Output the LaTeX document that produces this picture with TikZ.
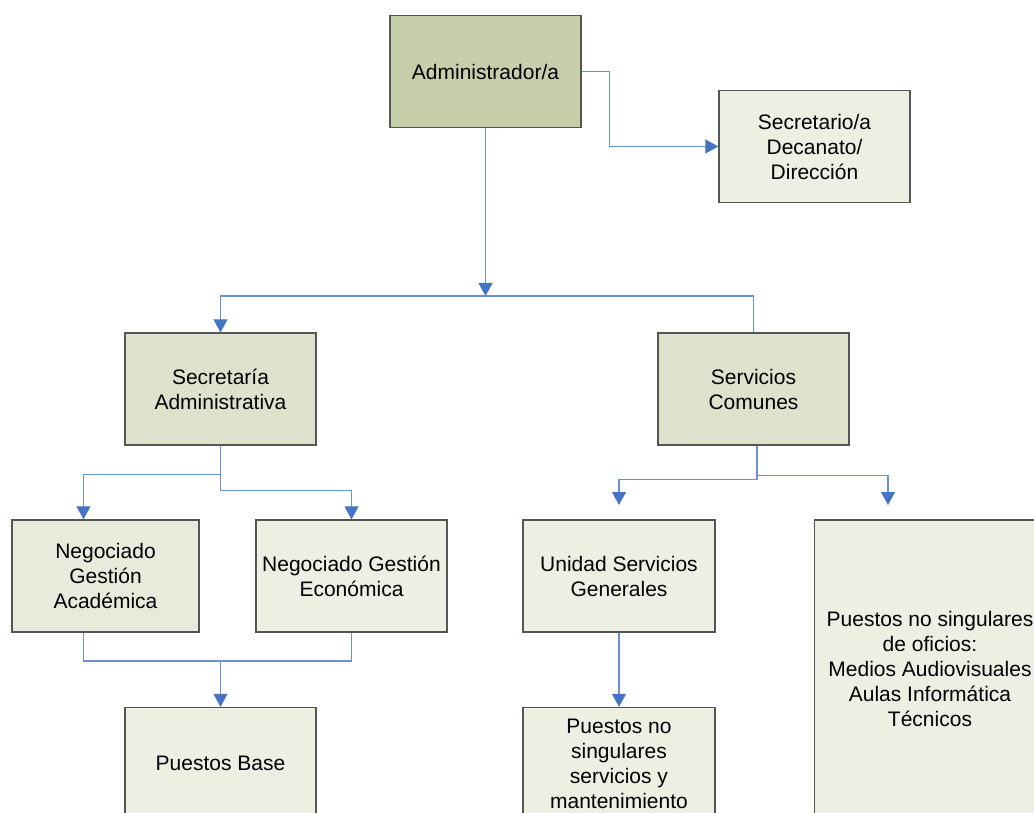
\documentclass[tikz,border=0pt]{standalone}
\usepackage{fontspec}
\setmainfont{Liberation Sans}
\usepackage{tikz}
\usetikzlibrary{arrows.meta}
\definecolor{boxline}{RGB}{85,85,85}
\definecolor{linkblue}{RGB}{105,145,212}
\definecolor{tipblue}{RGB}{70,116,196}
\definecolor{olivefill}{RGB}{199,207,170}
\definecolor{midfill}{RGB}{222,225,204}
\definecolor{palefill}{RGB}{232,234,219}
\definecolor{lightfill}{RGB}{238,239,227}
\tikzset{>={Triangle[length=13pt, width=14pt, color=tipblue]}}
\tikzset{
  orgbox/.style={draw=boxline, line width=1.3pt, minimum width=191pt, minimum height=112pt,
    align=center, inner sep=2pt, font=\fontsize{21}{25}\selectfont},
  link/.style={linkblue, line width=1.1pt}
}

\begin{document}
\begin{tikzpicture}[x=1pt, y=-1pt]
            \clip (0,0) rectangle (1034,813);
            \node[orgbox, fill=olivefill] (admin) at (485.5,71.5) {Administrador/a};
            \node[orgbox, fill=lightfill] (secr) at (814.5,146.5) {Secretario/a\\Decanato/\\Dirección};
            \node[orgbox, fill=midfill] (sadm) at (220.5,389) {Secretaría\\Administrativa};
            \node[orgbox, fill=midfill] (serv) at (753.5,389) {Servicios\\Comunes};
            \node[orgbox, fill=palefill, minimum width=187pt] (nga) at (105.5,576) {Negociado\\Gestión\\Académica};
            \node[orgbox, fill=lightfill] (nge) at (351.5,576) {Negociado Gestión\\Económica};
            \node[orgbox, fill=lightfill] (pbase) at (220.5,763.5) {Puestos Base};
            \node[orgbox, fill=lightfill, minimum width=192pt] (usg) at (619,576) {Unidad Servicios\\Generales};
            \node[orgbox, fill=lightfill, minimum width=192pt] (pnss) at (619,763.5) {Puestos no\\singulares\\servicios y\\mantenimiento};
            \node[orgbox, fill=lightfill, minimum width=231pt, minimum height=298pt] (pnso) at (930,669) {Puestos no singulares\\de oficios:\\Medios Audiovisuales\\Aulas Informática\\Técnicos};
            \coordinate (hub) at (485.5,296);
            \coordinate (merge) at (220.5,661);
            \coordinate (usgtip) at (619,505);
            \coordinate (pnsotip) at (888,505);
            \draw[link, ->] (admin.east) -- ++(28,0) |- (secr.west);
            \draw[link, ->] (admin.south) to (hub);
            \draw[link, ->] (hub) -| (sadm.north);
            \draw[link] (hub) -| (serv.north);
            \draw[link, ->] (sadm.south) -- ++(0,29) -| ([xshift=-22pt]nga.north);
            \draw[link, ->] (sadm.south) -- ++(0,45) -| (nge.north);
            \draw[link] ([xshift=-22pt]nga.south) |- (merge) -| (nge.south);
            \draw[link, ->] (merge) to (pbase.north);
            \draw[link, ->] ([xshift=3.5pt]serv.south) -- ++(0,34) -| (usgtip);
            \draw[link, ->] ([xshift=3.5pt]serv.south) -- ++(0,30) -| (pnsotip);
            \draw[link, ->] (usg.south) to (pnss.north);
        \end{tikzpicture}
\end{document}
